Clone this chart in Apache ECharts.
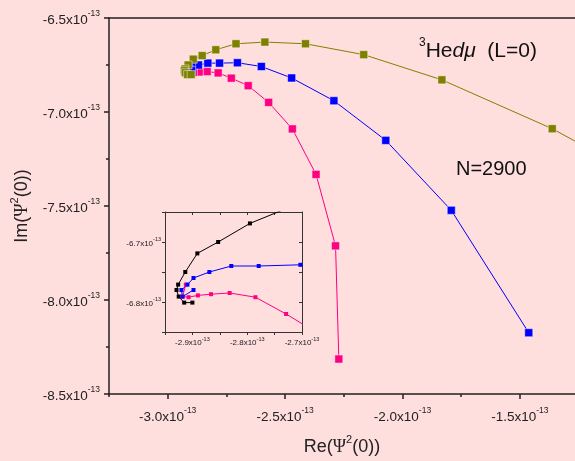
<!DOCTYPE html>
<html>
<head>
<meta charset="utf-8">
<script src="https://cdn.jsdelivr.net/npm/echarts@6/dist/echarts.min.js"></script>
<style>
html,body{margin:0;padding:0;background:#FFDEDE;}
#c{width:575px;height:461px;}
</style>
</head>
<body>
<div id="c"></div>
<script>
// Values in units of 1e-13
const exponentText = '-13';
const xTickValues = [-3.0, -2.5, -2.0, -1.5];
const xMinorTickValues = [-3.25, -2.75, -2.25, -1.75];
const yTickValues = [-8.5, -8.0, -7.5, -7.0, -6.5];
const insetXTickValues = [-2.9, -2.8, -2.7];
const insetXMinorTickValues = [-2.95, -2.9, -2.85, -2.8, -2.75, -2.7];
const insetYTickValues = [-6.8, -6.7];
const insetYAllTickValues = [-6.85, -6.8, -6.75, -6.7, -6.65];

// [Re, Im] pairs, one series each
const oliveSeries = [
  [-0.83, -7.45], [-1.362, -7.089], [-1.832, -6.829], [-2.165, -6.695],
  [-2.413, -6.637], [-2.586, -6.628], [-2.709, -6.637], [-2.795, -6.669],
  [-2.853, -6.700], [-2.891, -6.719], [-2.913, -6.750], [-2.926, -6.771],
  [-2.929, -6.780], [-2.925, -6.791], [-2.915, -6.801], [-2.900, -6.801]
];
const blueSeries = [
  [-1.462, -8.174], [-1.792, -7.523], [-2.071, -7.151], [-2.292, -6.940],
  [-2.472, -6.819], [-2.601, -6.758], [-2.703, -6.738], [-2.779, -6.740],
  [-2.829, -6.740], [-2.869, -6.750], [-2.898, -6.760], [-2.909, -6.771],
  [-2.920, -6.780], [-2.918, -6.791], [-2.898, -6.780]
];
const pinkSeries = [
  [-2.271, -8.314], [-2.285, -7.712], [-2.368, -7.332], [-2.469, -7.090],
  [-2.570, -6.949], [-2.657, -6.860], [-2.729, -6.820], [-2.785, -6.792],
  [-2.832, -6.785], [-2.866, -6.787], [-2.890, -6.789], [-2.907, -6.792],
  [-2.918, -6.791], [-2.912, -6.771]
];

const FONT = 'Liberation Sans, Arial, sans-serif';
const axisColor = '#222';

function sciFmt(v) {
  return '{b|' + v.toFixed(1) + 'x10}{s|' + exponentText + '}';
}
const mainRich = {
  b: {fontSize: 13.5, fontFamily: FONT, color: '#222', lineHeight: 18, verticalAlign: 'bottom'},
  s: {fontSize: 8.5, fontFamily: FONT, color: '#222', lineHeight: 18, verticalAlign: 'top'}
};
const insetRich = {
  b: {fontSize: 8, fontFamily: FONT, color: '#222', lineHeight: 11, verticalAlign: 'bottom'},
  s: {fontSize: 5.5, fontFamily: FONT, color: '#222', lineHeight: 11, verticalAlign: 'top'}
};
const nameRich = {
  n: {fontSize: 18, fontFamily: FONT, color: '#222', lineHeight: 22, verticalAlign: 'bottom'},
  g: {fontSize: 18, fontFamily: 'Liberation Serif, serif', color: '#222', lineHeight: 22, verticalAlign: 'bottom'},
  s: {fontSize: 11, fontFamily: FONT, color: '#222', lineHeight: 22, verticalAlign: 'top'}
};

const chart = echarts.init(document.getElementById('c'), null, {renderer: 'canvas'});

function mainLine(data, color, z) {
  return {
    type: 'line', xAxisIndex: 0, yAxisIndex: 0, data: data,
    symbol: 'rect', symbolSize: 8, clip: true,
    lineStyle: {color: color, width: 1},
    itemStyle: {color: color, borderColor: 'rgba(255,255,255,0.45)', borderWidth: 1},
    emphasis: {disabled: true}, z: z
  };
}
function insetLine(data, color) {
  return {
    type: 'line', xAxisIndex: 3, yAxisIndex: 1, data: data,
    symbol: 'rect', symbolSize: 4, clip: true,
    lineStyle: {color: color, width: 1},
    itemStyle: {color: color},
    emphasis: {disabled: true}, z: 6
  };
}

const option = {
  backgroundColor: '#FFDEDE',
  animation: false,
  grid: [
    {left: 109, right: 0, top: 18, bottom: 63},
    {left: 165, top: 212, width: 137, height: 120}
  ],
  xAxis: [
    {
      gridIndex: 0, type: 'value', min: -3.25, max: -1.265, position: 'bottom',
      axisLine: {show: true, onZero: false, lineStyle: {color: axisColor, width: 1.5}},
      axisTick: {show: true, customValues: xTickValues, length: 5, inside: false, lineStyle: {color: axisColor, width: 1.5}},
      axisLabel: {customValues: xTickValues, formatter: sciFmt, rich: mainRich, margin: 12},
      splitLine: {show: false},
      name: '{n|Re(}{g|Ψ}{s|2}{n|(0))}', nameLocation: 'middle', nameGap: 40,
      nameTextStyle: {rich: nameRich}
    },
    {
      gridIndex: 0, type: 'value', min: -3.25, max: -1.265, position: 'bottom',
      axisLine: {show: false, onZero: false},
      axisTick: {show: true, customValues: xMinorTickValues, length: 3, lineStyle: {color: axisColor, width: 1.5}},
      axisLabel: {show: false}, splitLine: {show: false}
    },
    {
      gridIndex: 0, type: 'value', min: -3.25, max: -1.265, position: 'top',
      axisLine: {show: true, onZero: false, lineStyle: {color: axisColor, width: 1.5}},
      axisTick: {show: false}, axisLabel: {show: false}, splitLine: {show: false}
    },
    {
      gridIndex: 1, type: 'value', min: -2.95, max: -2.70, position: 'bottom',
      axisLine: {show: true, onZero: false, lineStyle: {color: '#333', width: 1}},
      axisTick: {show: true, customValues: insetXMinorTickValues, length: 3, lineStyle: {color: '#333', width: 1}},
      axisLabel: {customValues: insetXTickValues, formatter: sciFmt, rich: insetRich, margin: 4},
      splitLine: {show: false}
    },
    {
      gridIndex: 1, type: 'value', min: -2.95, max: -2.70, position: 'top',
      axisLine: {show: true, onZero: false, lineStyle: {color: '#333', width: 1}},
      axisTick: {show: true, inside: true, customValues: insetXMinorTickValues, length: 3, lineStyle: {color: '#333', width: 1}},
      axisLabel: {show: false}, splitLine: {show: false}
    }
  ],
  yAxis: [
    {
      gridIndex: 0, type: 'value', min: -8.5, max: -6.5, interval: 0.5, position: 'left',
      axisLine: {show: true, onZero: false, lineStyle: {color: axisColor, width: 1.5}},
      axisTick: {show: true, length: 5, lineStyle: {color: axisColor, width: 1.5}},
      minorTick: {show: true, splitNumber: 2, length: 3, lineStyle: {color: axisColor, width: 1.5}},
      axisLabel: {formatter: sciFmt, rich: mainRich, margin: 9},
      splitLine: {show: false}, minorSplitLine: {show: false},
      name: '{n|Im(}{g|Ψ}{s|2}{n|(0))}', nameLocation: 'middle', nameGap: 78,
      nameTextStyle: {rich: nameRich}
    },
    {
      gridIndex: 1, type: 'value', min: -6.85, max: -6.65, position: 'left',
      axisLine: {show: true, onZero: false, lineStyle: {color: '#333', width: 1}},
      axisTick: {show: true, customValues: insetYAllTickValues, length: 3, lineStyle: {color: '#333', width: 1}},
      axisLabel: {customValues: insetYTickValues, formatter: sciFmt, rich: insetRich, margin: 4},
      splitLine: {show: false}
    },
    {
      gridIndex: 1, type: 'value', min: -6.85, max: -6.65, position: 'right',
      axisLine: {show: true, onZero: false, lineStyle: {color: '#333', width: 1}},
      axisTick: {show: true, inside: true, customValues: insetYAllTickValues, length: 3, lineStyle: {color: '#333', width: 1}},
      axisLabel: {show: false}, splitLine: {show: false}
    }
  ],
  series: [
    mainLine(pinkSeries, '#FF0080', 3),
    mainLine(blueSeries, '#0000FF', 3),
    mainLine(oliveSeries, '#808000', 4),
    insetLine(oliveSeries, '#000000'),
    insetLine(pinkSeries, '#FF0080'),
    insetLine(blueSeries, '#0000FF')
  ],
  graphic: [
    {
      type: 'text', left: 419, top: 37, z: 10,
      style: {
        text: '{s|3}{n|He}{i|dμ}{n|  (L=0)}',
        rich: {
          s: {fontSize: 12, fontFamily: FONT, fill: '#111', lineHeight: 25, verticalAlign: 'top'},
          n: {fontSize: 21, fontFamily: FONT, fill: '#111', lineHeight: 25, verticalAlign: 'bottom'},
          i: {fontSize: 21, fontFamily: FONT, fontStyle: 'italic', fill: '#111', lineHeight: 25, verticalAlign: 'bottom'}
        }
      }
    },
    {
      type: 'text', left: 456, top: 159, z: 10,
      style: {text: 'N=2900', fontSize: 20, fontFamily: FONT, fill: '#111'}
    }
  ]
};
chart.setOption(option);
</script>
</body>
</html>
